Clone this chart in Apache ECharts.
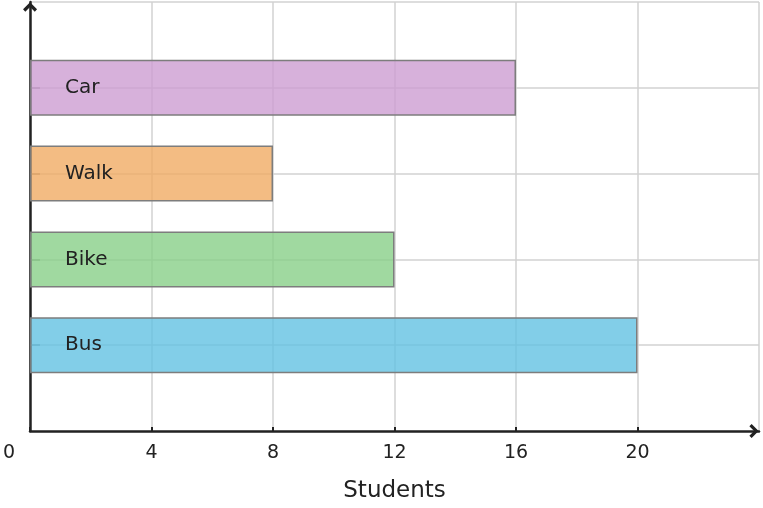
<!DOCTYPE html>
<html>
<head>
<meta charset="utf-8">
<script src="https://cdn.jsdelivr.net/npm/echarts@6/dist/echarts.min.js"></script>
<style>
  html, body { margin: 0; padding: 0; background: #fff; }
  #chart { width: 763px; height: 508px; }
</style>
</head>
<body>
<div id="chart"></div>
<script>
// data
var categories = ['', 'Bus', 'Bike', 'Walk', 'Car', '']
var students = [null, 20, 12, 8, 16, null]
var barColors = [null, 'rgba(99,194,226,0.8)', 'rgba(136,207,136,0.8)', 'rgba(240,171,100,0.8)', 'rgba(205,157,210,0.8)', null]
var xTicks = [0, 4, 8, 12, 16, 20]

var chart = echarts.init(document.getElementById('chart'))

var font = 'DejaVu Sans'
// open chevron arrow head, pointing up
var chevron = 'path://M0,0 L6.5,6.5 L4.4,8.6 L0,4.2 L-4.4,8.6 L-6.5,6.5 Z'

var option = {
    animation: false,
    grid: { left: 30, right: 4, top: 2, bottom: 76, containLabel: false },
    xAxis: {
        type: 'value',
        min: 0,
        max: 24,
        interval: 4,
        name: 'Students',
        nameLocation: 'middle',
        nameGap: 49,
        nameTextStyle: { fontFamily: font, fontSize: 23, color: '#222' },
        axisLine: {
            show: true,
            lineStyle: { color: '#222', width: 2.5 },
            symbol: ['none', chevron],
            symbolSize: [14, 10],
            symbolOffset: [0, -5]
        },
        axisTick: { show: true, inside: true, length: 4, lineStyle: { color: '#222', width: 2 } },
        axisLabel: {
            margin: 13,
            fontFamily: font,
            fontSize: 19,
            color: '#222',
            showMaxLabel: false,
            formatter: function (v) {
                if (xTicks.indexOf(v) < 0) return ''
                // 0 sits left of the axis corner
                if (v === 0) return '{z|0}'
                return String(v)
            },
            rich: { z: { fontFamily: font, fontSize: 19, color: '#222', padding: [0, 42, 0, 0] } }
        },
        splitLine: { show: true, lineStyle: { color: '#d2d2d2', width: 1.5 } }
    },
    yAxis: {
        type: 'category',
        data: categories,
        boundaryGap: false,
        axisLine: {
            show: true,
            lineStyle: { color: '#222', width: 2.5 },
            symbol: ['none', chevron],
            symbolSize: [14, 10],
            symbolOffset: [0, -5]
        },
        axisTick: {
            show: true, inside: true, length: 10,
            lineStyle: { color: '#888', width: 1.5 },
            interval: function (i) { return i > 0 && i < 5 }
        },
        axisLabel: { show: false },
        splitLine: {
            show: true,
            lineStyle: { color: '#d2d2d2', width: 1.5 },
            interval: function (i) { return i > 0 }
        }
    },
    series: [{
        type: 'bar',
        barWidth: 56,
        z: 1,
        data: students.map(function (v, i) {
            return { value: v, itemStyle: { color: barColors[i] } }
        }),
        itemStyle: { borderColor: '#7d7d7d', borderWidth: 1.5 },
        label: {
            show: true,
            position: 'insideLeft',
            offset: [30, 0],
            fontFamily: font,
            fontSize: 20,
            color: '#222',
            formatter: function (p) { return p.name }
        }
    }]
}

chart.setOption(option)
</script>
</body>
</html>
